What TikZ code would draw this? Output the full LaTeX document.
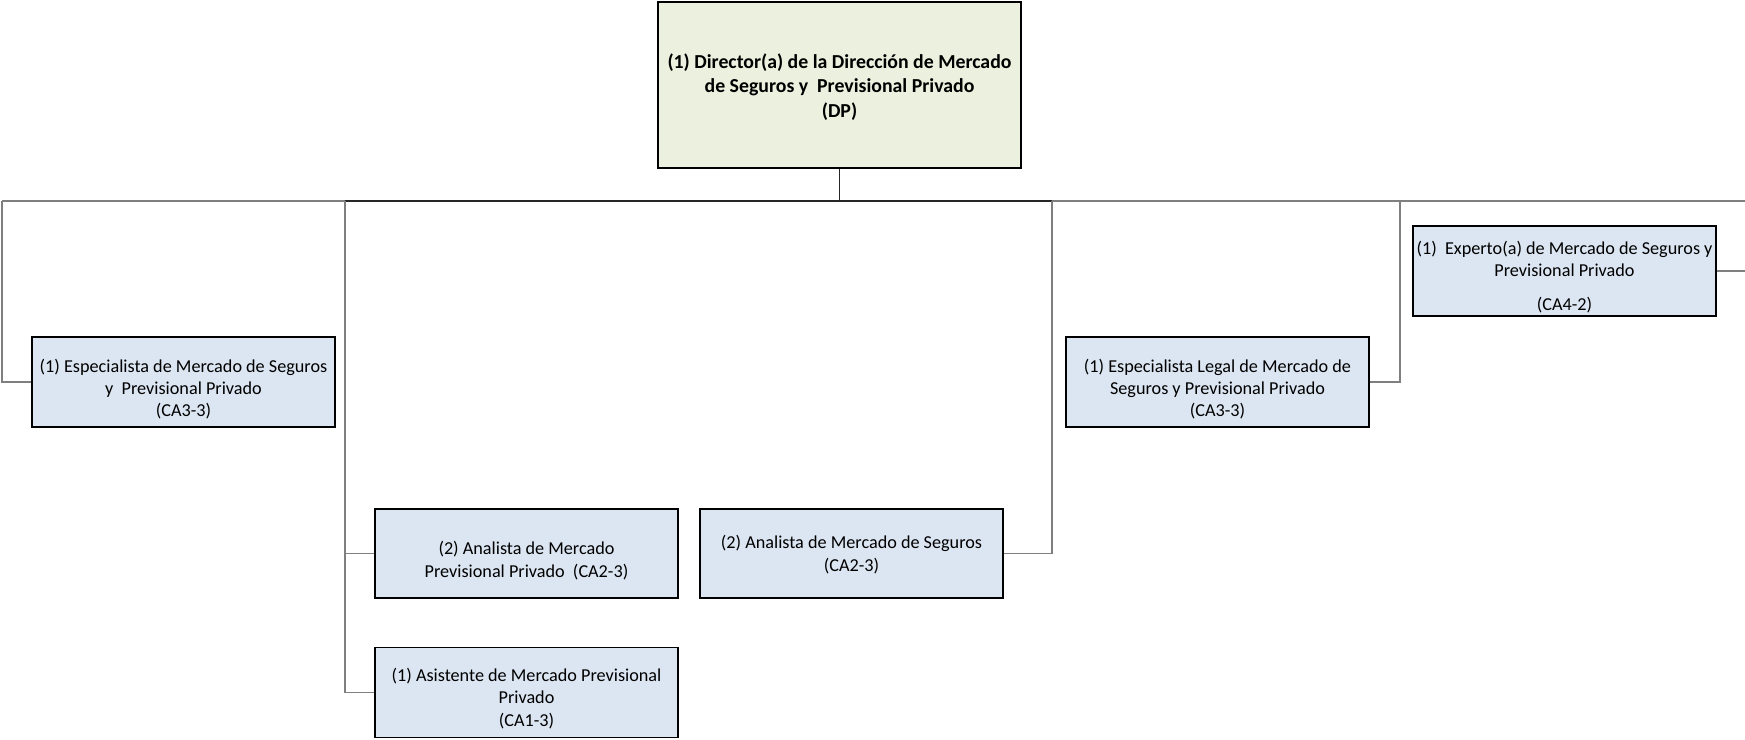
\documentclass[tikz,border=0pt]{standalone}
\usepackage{fontspec}
\setmainfont{Carlito}
\definecolor{boxblue}{HTML}{DCE6F2}
\definecolor{boxgreen}{HTML}{EBF1DE}
\definecolor{linegray}{HTML}{7F7F7F}
\begin{document}
\begin{tikzpicture}[x=1pt,y=-1pt,
  unit/.style={draw=black,line width=1.3pt,fill=boxblue,rectangle,
    minimum width=303pt,minimum height=90pt,inner sep=0pt},
  utext/.style={align=center,inner sep=0pt,font=\fontsize{18.2}{22.3}\selectfont},
  head/.style={draw=black,line width=1.3pt,fill=boxgreen,rectangle,
    minimum width=363pt,minimum height=166pt,inner sep=0pt},
  htext/.style={align=center,inner sep=0pt,font=\fontsize{19.8}{24.5}\selectfont\bfseries},
  conn/.style={draw=linegray,line width=1.1pt},
  connd/.style={draw=black!85,line width=1.3pt}]
\useasboundingbox (0,0) rectangle (1745,739);
\node[head,label={[htext,yshift=-2pt]center:{(1) Director(a) de la Dirección de Mercado\\de Seguros y\ \ Previsional Privado\\(DP)}}] (dir) at (839.5,85) {};
\node[unit,label={[utext,yshift=-7pt]center:{(1) Especialista de Mercado de Seguros\\y\ \ Previsional Privado\\(CA3-3)}}] (esp1) at (183.5,382) {};
\node[unit,minimum height=89pt,label={[utext,yshift=-7pt]center:{(2) Analista de Mercado\\Previsional Privado\ \ (CA2-3)}}] (anprev) at (526.5,553.5) {};
\node[unit,label={[utext,yshift=-6pt]center:{(1) Asistente de Mercado Previsional\\Privado\\(CA1-3)}}] (asist) at (526.5,692.5) {};
\node[unit,minimum height=89pt,label={[utext,yshift=-1pt]center:{(2) Analista de Mercado de Seguros\\(CA2-3)}}] (anseg) at (851.5,553.5) {};
\node[unit,label={[utext,yshift=-7pt]center:{(1) Especialista Legal de Mercado de\\Seguros y Previsional Privado\\(CA3-3)}}] (esplegal) at (1217.5,382) {};
\node[unit,label={[utext,yshift=-6pt]center:{(1)\ \ Experto(a) de Mercado de Seguros y\\Previsional Privado\\[11pt](CA4-2)}}] (experto) at (1564.5,271) {};
\coordinate (busL) at (2,201);
\coordinate (busR) at (1745,201);
\coordinate (busM) at (839.5,201);
\coordinate (tA) at (345,201);
\coordinate (tB) at (1052,201);
\coordinate (tC) at (1400,201);
\coordinate (expR) at (1745,271);
\draw[conn] (busL) -- (tA);
\draw[conn] (tB) -- (busR);
\draw[connd] (tA) -- (tB);
\draw[connd] (dir.south) -- (busM);
\draw[conn] (busL) |- (esp1.west);
\draw[conn] (tA) |- (anprev.west);
\draw[conn] (tA) |- (asist.west);
\draw[conn] (anseg.east) -| (tB);
\draw[conn] (esplegal.east) -| (tC);
\draw[conn] (experto.east) -- (expR);
\end{tikzpicture}
\end{document}
